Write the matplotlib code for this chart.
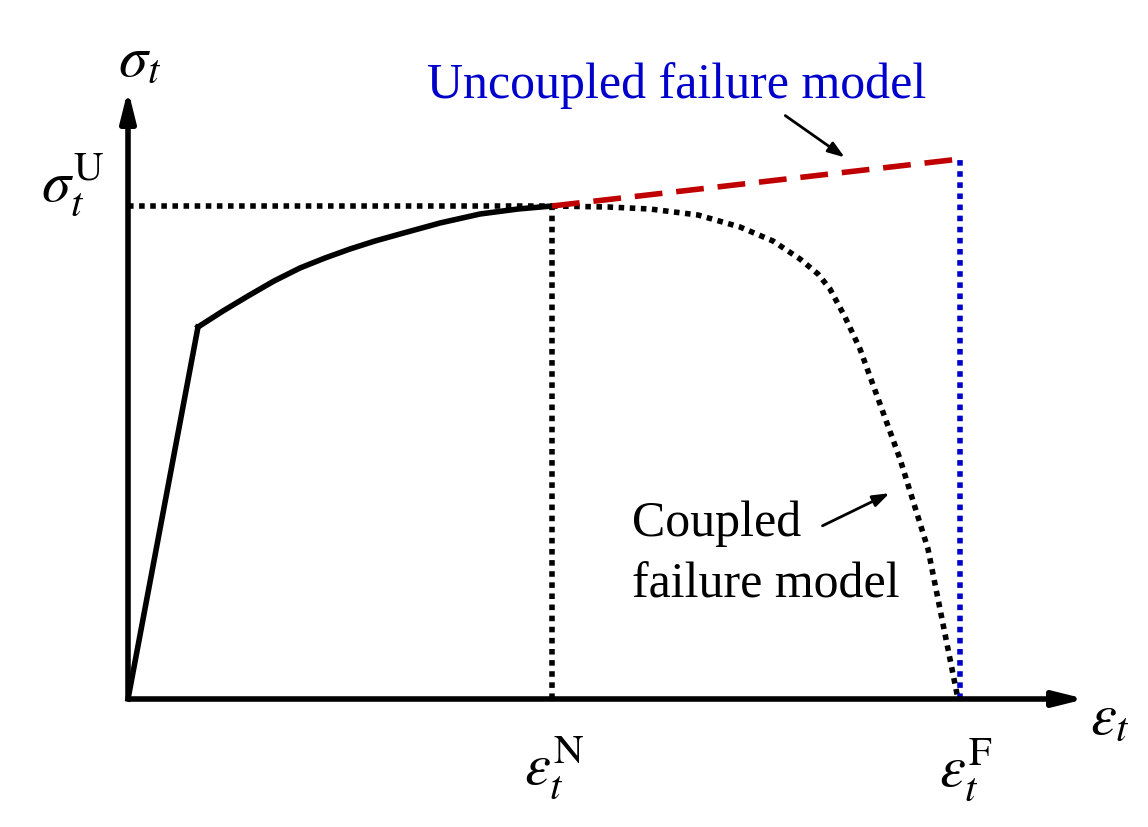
import matplotlib
matplotlib.use("Agg")
from matplotlib import pyplot as plt

plt.rcParams['font.family'] = ['Liberation Serif', 'DejaVu Serif']
plt.rcParams['mathtext.fontset'] = 'stix'

# schematic curve (strain, stress) in arbitrary units
elastic_x = [0, 70]
elastic_y = [0, 372]
harden_x = [70, 95, 120, 146, 172, 197, 222, 247, 272, 312, 352, 390, 424]
harden_y = [372, 388, 403, 418, 431, 441, 450, 458, 465, 476, 485, 490, 493]
soften_x = [424, 480, 522, 570, 612, 645, 672, 690, 702, 717, 732, 772, 800, 830]
soften_y = [493, 492, 490, 484, 472, 458, 440, 425, 410, 382, 350, 240, 150, 0]
uncoupled_x = [424, 832]
uncoupled_y = [493, 540]
eps_N, eps_F, sig_U = 424, 832, 493

fig = plt.figure(figsize=(11.48, 8.28), dpi=100)
ax = fig.add_axes([0, 0, 1, 1])
ax.set_xlim(-128, 1020)
ax.set_ylim(-128, 700)
ax.axis("off")

# axes with arrows
ax.annotate("", xy=(960, 0), xytext=(-2, 0),
            arrowprops=dict(arrowstyle="-|>,head_length=1.8,head_width=0.45", lw=4, color="black"))
ax.annotate("", xy=(0, 612), xytext=(0, -2),
            arrowprops=dict(arrowstyle="-|>,head_length=1.8,head_width=0.45", lw=4, color="black"))

ax.plot(elastic_x, elastic_y, color="black", lw=4)
ax.plot(harden_x, harden_y, color="black", lw=4)
ax.plot(soften_x, soften_y, color="black", lw=4, ls=(0, (1, 1)))
ax.plot([0, eps_N], [sig_U, sig_U], color="black", lw=4, ls=(0, (1, 1)))
ax.plot([eps_N, eps_N], [0, sig_U], color="black", lw=4, ls=(0, (1, 1)))
ax.plot(uncoupled_x, uncoupled_y, color="#c00000", lw=4, ls=(0, (5, 2.5)))
ax.plot([eps_F, eps_F], [0, uncoupled_y[1]], color="#0000cc", lw=4, ls=(0, (1, 1)))

fs = 36
ms = 42
ax.text(12, 638, r"$\sigma_t$", fontsize=ms, ha="center", va="center")
ax.text(-55, 515, r"$\sigma_t^{\rm U}$", fontsize=ms, ha="center", va="center")
ax.text(eps_N + 2, -68, r"$\varepsilon_t^{\rm N}$", fontsize=ms, ha="center", va="center")
ax.text(eps_F + 6, -70, r"$\varepsilon_t^{\rm F}$", fontsize=ms, ha="center", va="center")
ax.text(982, -20, r"$\varepsilon_t$", fontsize=ms, ha="center", va="center")

ax.text(549, 614, "Uncoupled failure model", fontsize=fs, color="#0000cc", ha="center", va="center")
ax.annotate("", xy=(719, 540), xytext=(655, 585),
            arrowprops=dict(arrowstyle="-|>,head_length=1.0,head_width=0.35", lw=2, color="black"))
ax.text(504, 176, "Coupled", fontsize=fs, ha="left", va="center")
ax.text(504, 115, "failure model", fontsize=fs, ha="left", va="center")
ax.annotate("", xy=(764, 207), xytext=(692, 172),
            arrowprops=dict(arrowstyle="-|>,head_length=1.0,head_width=0.35", lw=2, color="black"))

fig.savefig("out.png", dpi=100)
